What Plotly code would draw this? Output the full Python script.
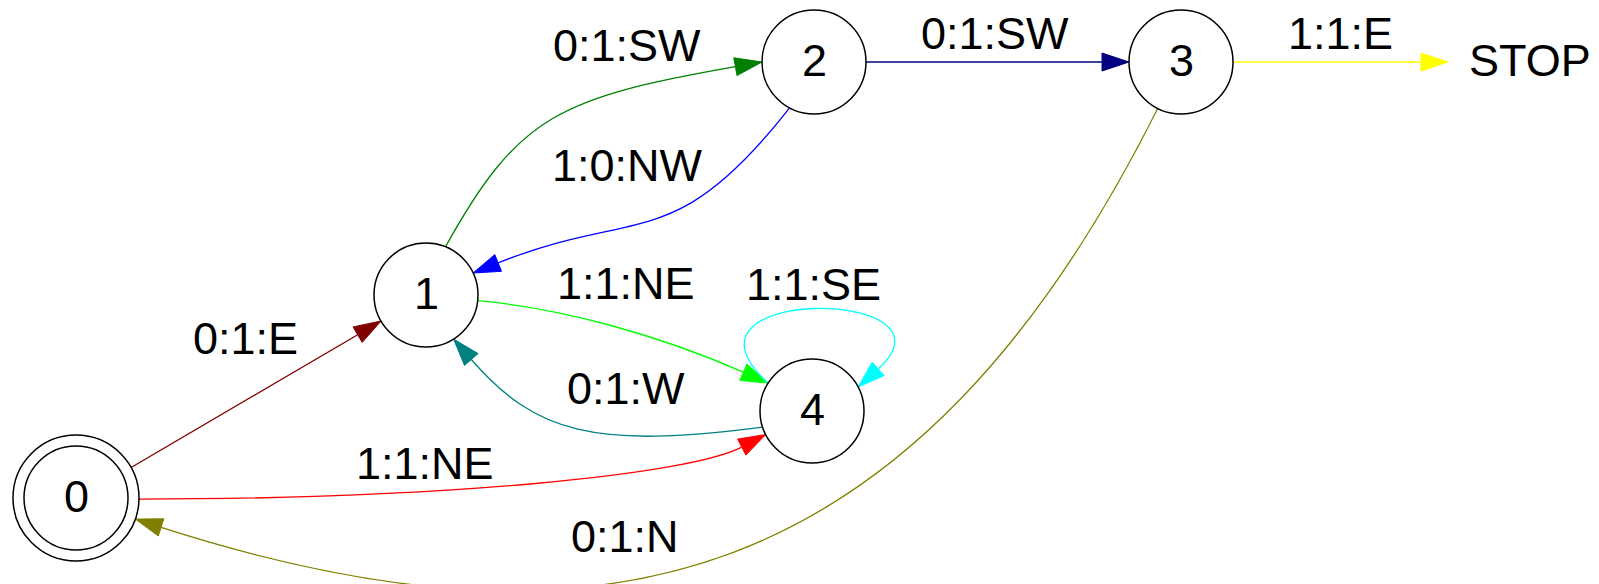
import math
import plotly.graph_objects as go

# ---- nodes (pixel layout of the state diagram) ----
node_names = ["0", "1", "2", "3", "4", "STOP"]
node_x = [76, 426, 814, 1181, 812, 1530]
node_y = [498, 295, 62, 62, 411, 62]
node_shape = ["doublecircle", "circle", "circle", "circle", "circle", "plaintext"]

# ---- edges ----
edge_src = ["0", "0", "1", "2", "2", "3", "3", "1", "4", "4"]
edge_dst = ["1", "4", "2", "1", "3", "STOP", "0", "4", "1", "4"]
edge_label = ["0:1:E", "1:1:NE", "0:1:SW", "1:0:NW", "0:1:SW", "1:1:E",
              "0:1:N", "1:1:NE", "0:1:W", "1:1:SE"]
edge_color = ["#800000", "#ff0000", "#008000", "#0000ff", "#000080", "#ffff00",
              "#808000", "#00ff00", "#008080", "#00ffff"]
label_x = [245, 425, 627, 627, 995, 1340, 625, 626, 626, 813]
label_y = [340, 465, 47, 167, 35, 35, 538, 285, 390, 286]

# ---- edge routing (style): attach angles, travel directions, handle lengths ----
out_ang = [-29, 1, -68, 118, 0, 0, 116.6, 6.3, 162, 212.5]
in_ang = [150, 153, 180, -25, 180, 180, 19.6, 212.5, 58, -27.5]
out_dir = [None, 0, -61, 128, None, None, 116.6, 5, 172.6, 222]
in_dir = [None, -27.5, -10, 158, None, None, 197.8, 23.7, 229, 138]
h_out = [0, 307, 151, 188, 0, 0, 540, 85, 170, 148]
h_in = [0, 87, 205, 176, 0, 0, 490, 118, 125, 148]

R = 52
R_OUTER = 63
R_STOP = 82
ARROW_L = 27
ARROW_W = 9
FONT = dict(family="Liberation Sans, Arial, sans-serif", size=45, color="black")
PAGE_MARGIN = 8  # default body margin of the html page
W, H = 1599, 584

idx = {n: i for i, n in enumerate(node_names)}


def attach_radius(i):
    if node_shape[i] == "doublecircle":
        return R_OUTER
    if node_shape[i] == "plaintext":
        return R_STOP
    return R


def attach(name, ang):
    i = idx[name]
    r = attach_radius(i)
    a = math.radians(ang)
    return node_x[i] + r * math.cos(a), node_y[i] + r * math.sin(a)


def unit(ang):
    a = math.radians(ang)
    return math.cos(a), math.sin(a)


shapes = []
annotations = []

for k in range(len(edge_src)):
    col = edge_color[k]
    sx, sy = attach(edge_src[k], out_ang[k])
    tx, ty = attach(edge_dst[k], in_ang[k])
    if out_dir[k] is None:
        L = math.hypot(tx - sx, ty - sy)
        dx, dy = (tx - sx) / L, (ty - sy) / L
        bx, by = tx - ARROW_L * dx, ty - ARROW_L * dy
        path = f"M {sx:.1f},{sy:.1f} L {bx:.1f},{by:.1f}"
    else:
        ox, oy = unit(out_dir[k])
        dx, dy = unit(in_dir[k])
        bx, by = tx - ARROW_L * dx, ty - ARROW_L * dy
        p1x, p1y = sx + h_out[k] * ox, sy + h_out[k] * oy
        p2x, p2y = tx - h_in[k] * dx, ty - h_in[k] * dy
        path = (f"M {sx:.1f},{sy:.1f} C {p1x:.1f},{p1y:.1f} "
                f"{p2x:.1f},{p2y:.1f} {bx:.1f},{by:.1f}")
    shapes.append(dict(type="path", path=path, xref="x", yref="y",
                       line=dict(color=col, width=1.3)))
    nx, ny = -dy, dx
    c1 = (bx + ARROW_W * nx, by + ARROW_W * ny)
    c2 = (bx - ARROW_W * nx, by - ARROW_W * ny)
    head = (f"M {tx:.1f},{ty:.1f} L {c1[0]:.1f},{c1[1]:.1f} "
            f"L {c2[0]:.1f},{c2[1]:.1f} Z")
    shapes.append(dict(type="path", path=head, xref="x", yref="y",
                       fillcolor=col, line=dict(color=col, width=1)))
    annotations.append(dict(x=label_x[k], y=label_y[k], text=edge_label[k],
                            xref="x", yref="y", showarrow=False, yshift=2,
                            xanchor="center", yanchor="middle", font=FONT))

for i, n in enumerate(node_names):
    x, y = node_x[i], node_y[i]
    if node_shape[i] in ("circle", "doublecircle"):
        shapes.append(dict(type="circle", xref="x", yref="y",
                           x0=x - R, x1=x + R, y0=y - R, y1=y + R,
                           line=dict(color="black", width=1.5)))
    if node_shape[i] == "doublecircle":
        shapes.append(dict(type="circle", xref="x", yref="y",
                           x0=x - R_OUTER, x1=x + R_OUTER,
                           y0=y - R_OUTER, y1=y + R_OUTER,
                           line=dict(color="black", width=1.5)))
    annotations.append(dict(x=x, y=y, text=n, xref="x", yref="y",
                            showarrow=False, xanchor="center", yshift=2,
                            yanchor="middle", font=FONT))

fig = go.Figure()
fig.update_layout(
    width=W - PAGE_MARGIN, height=H - PAGE_MARGIN,
    margin=dict(l=0, r=0, t=0, b=0),
    paper_bgcolor="white", plot_bgcolor="white",
    xaxis=dict(range=[PAGE_MARGIN, W], visible=False, fixedrange=True),
    yaxis=dict(range=[H, PAGE_MARGIN], visible=False, fixedrange=True),
    shapes=shapes, annotations=annotations, showlegend=False,
)
fig.write_html("out.html")
